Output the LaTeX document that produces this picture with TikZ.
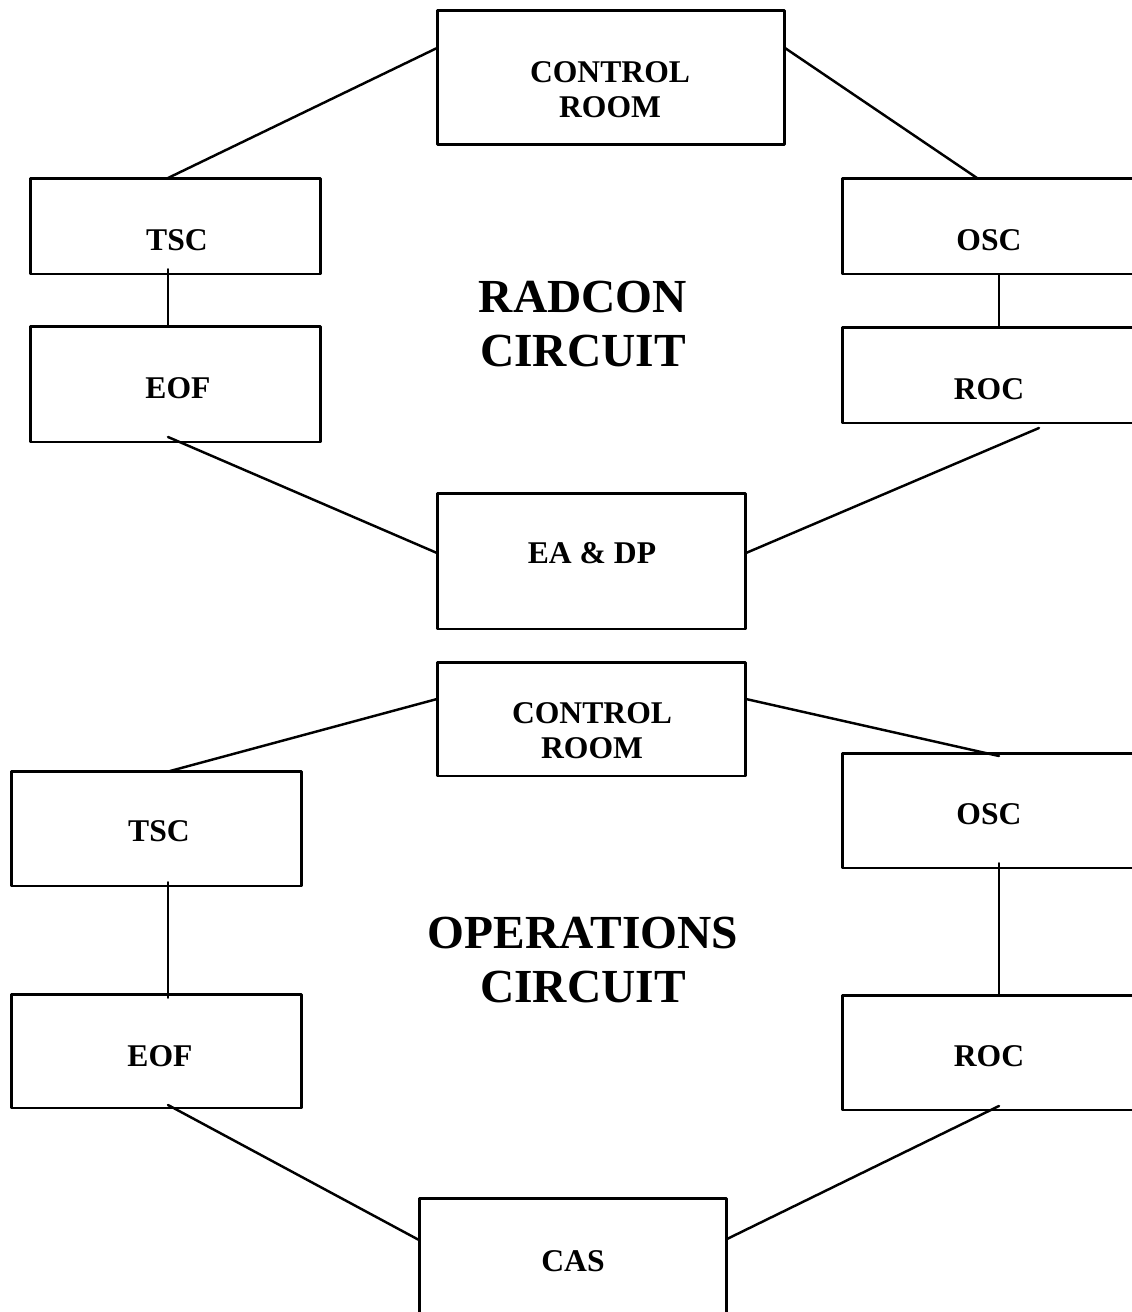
\documentclass[tikz,border=0pt]{standalone}
\usepackage{fontspec}
\setmainfont{Liberation Serif}

\begin{document}
\begin{tikzpicture}[x=0.02cm, y=-0.02cm, line join=round, line cap=round,
  box/.style={draw, line width=1.7pt, inner sep=0pt, outer sep=0pt},
  lbl/.style={font=\bfseries\fontsize{18}{20}\selectfont, align=center, inner sep=0pt},
  head/.style={font=\bfseries\fontsize{27}{30.7}\selectfont, align=center, inner sep=0pt},
  link/.style={line width=1.4pt},
  stem/.style={line width=1pt}]
  \useasboundingbox (0,0) rectangle (1132,1312);

  % ========================================================
  % 1. RADCON CIRCUIT (upper ring)
  % ========================================================
  \node[box, minimum width=6.96cm, minimum height=2.7cm]  (crA)  at (611,77.5) {};
  \node[box, minimum width=5.82cm, minimum height=1.92cm] (tscA) at (175.5,226) {};
  \node[box, minimum width=5.88cm, minimum height=1.92cm] (oscA) at (989,226) {};
  \node[box, minimum width=5.82cm, minimum height=2.32cm] (eofA) at (175.5,384) {};
  \node[box, minimum width=5.88cm, minimum height=1.92cm] (rocA) at (989,375) {};
  \node[box, minimum width=6.18cm, minimum height=2.72cm] (eadp) at (591.5,561) {};

  \node[lbl] (crAtxt)  at (610,89.5) {CONTROL\\ROOM};
  \node[lbl] (tscAtxt) at (177,240) {TSC};
  \node[lbl] (oscAtxt) at (989,240) {OSC};
  \node[lbl] (eofAtxt) at (178,388) {EOF};
  \node[lbl] (rocAtxt) at (989,389) {ROC};
  \node[lbl] (eadptxt) at (592,553) {EA \& DP};
  \node[head] (radcon) at (583,324) {RADCON\\CIRCUIT};

  \draw[link] ([yshift=0.59cm]crA.west) -- ([xshift=-0.15cm]tscA.north);
  \draw[link] ([yshift=0.59cm]crA.east) -- ([xshift=-0.24cm]oscA.north);
  \draw[stem] ([xshift=-0.15cm,yshift=0.1cm]tscA.south) -- ([xshift=-0.15cm]eofA.north);
  \draw[stem] ([xshift=0.2cm]oscA.south) -- ([xshift=0.2cm]rocA.north);
  \draw[link] ([xshift=-0.15cm,yshift=0.1cm]eofA.south) -- ([yshift=0.16cm]eadp.west);
  \draw[link] ([xshift=1cm,yshift=-0.1cm]rocA.south) -- ([yshift=0.16cm]eadp.east);

  % ========================================================
  % 2. OPERATIONS CIRCUIT (lower ring)
  % ========================================================
  \node[box, minimum width=6.18cm, minimum height=2.28cm] (crB)  at (591.5,719) {};
  \node[box, minimum width=5.82cm, minimum height=2.3cm]  (tscB) at (156.5,828.5) {};
  \node[box, minimum width=5.88cm, minimum height=2.3cm]  (oscB) at (989,810.5) {};
  \node[box, minimum width=5.82cm, minimum height=2.28cm] (eofB) at (156.5,1051) {};
  \node[box, minimum width=5.88cm, minimum height=2.3cm]  (rocB) at (989,1052.5) {};
  \node[box, minimum width=6.16cm, minimum height=2.52cm] (cas)  at (573,1261) {};

  \node[lbl] (crBtxt)  at (592,730.5) {CONTROL\\ROOM};
  \node[lbl] (tscBtxt) at (159,831) {TSC};
  \node[lbl] (oscBtxt) at (989,814) {OSC};
  \node[lbl] (eofBtxt) at (160,1056) {EOF};
  \node[lbl] (rocBtxt) at (989,1056) {ROC};
  \node[lbl] (castxt)  at (573,1261) {CAS};
  \node[head] (opcirc) at (583,960) {OPERATIONS\\CIRCUIT};

  \draw[link] ([yshift=0.4cm]crB.west) -- ([xshift=0.27cm]tscB.north);
  \draw[link] ([yshift=0.4cm]crB.east) -- ([xshift=0.2cm,yshift=-0.06cm]oscB.north);
  \draw[stem] ([xshift=0.23cm,yshift=0.08cm]tscB.south) -- ([xshift=0.23cm,yshift=-0.08cm]eofB.north);
  \draw[stem] ([xshift=0.2cm,yshift=0.1cm]oscB.south) -- ([xshift=0.2cm]rocB.north);
  \draw[link] ([xshift=0.23cm,yshift=0.06cm]eofB.south) -- ([yshift=0.42cm]cas.west);
  \draw[link] ([xshift=0.2cm,yshift=0.08cm]rocB.south) -- ([yshift=0.44cm]cas.east);
\end{tikzpicture}
\end{document}
